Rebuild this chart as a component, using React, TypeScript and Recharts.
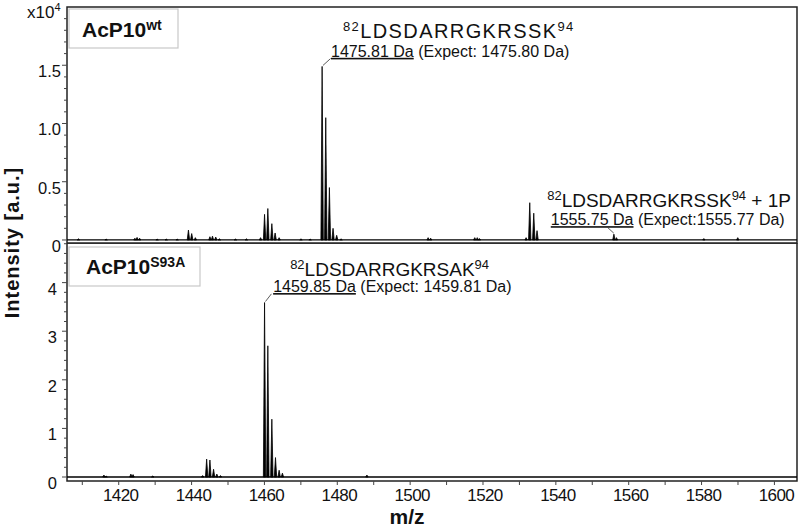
import React from 'react';
import {
  BarChart, Bar, XAxis, YAxis, ReferenceLine, ReferenceArea, ReferenceDot,
} from 'recharts';

const FONT = '"Liberation Sans", Arial, Helvetica, sans-serif';

// m/z axis
const mzDomain: [number, number] = [1405.8, 1606.2];
const mzTicks = [1410, 1420, 1430, 1440, 1450, 1460, 1470, 1480, 1490, 1500, 1510, 1520, 1530, 1540, 1550, 1560, 1570, 1580, 1590, 1600];
const mzLabelled = [1420, 1440, 1460, 1480, 1500, 1520, 1540, 1560, 1580, 1600];

// AcP10 wt spectrum (intensity x10^4)
const wtMz = [1408.9, 1416.5, 1424.4, 1425.0, 1425.7, 1430.5, 1433.0, 1436.0, 1439.1, 1440.0, 1441.0, 1445.0, 1445.7, 1446.6, 1447.6, 1452.0, 1455.0, 1458.9, 1460.0, 1460.9, 1462.0, 1462.9, 1464.0, 1470.0, 1472.5, 1475.8, 1476.8, 1477.8, 1478.8, 1479.8, 1481.0, 1504.9, 1505.6, 1517.7, 1518.4, 1519.0, 1531.8, 1532.8, 1533.9, 1534.8, 1555.9, 1556.6, 1580.6, 1589.9];
const wtIntensity = [0.01, 0.008, 0.015, 0.022, 0.015, 0.008, 0.008, 0.008, 0.085, 0.055, 0.02, 0.028, 0.033, 0.025, 0.01, 0.008, 0.01, 0.02, 0.22, 0.27, 0.14, 0.06, 0.02, 0.01, 0.008, 1.49, 1.05, 0.45, 0.10, 0.04, 0.01, 0.02, 0.015, 0.02, 0.02, 0.012, 0.02, 0.32, 0.23, 0.08, 0.05, 0.02, 0.012, 0.02];
const wtDomain: [number, number] = [-0.026, 2.0];
const wtTicks = [0, 0.1, 0.2, 0.3, 0.4, 0.5, 0.6, 0.7, 0.8, 0.9, 1.0, 1.1, 1.2, 1.3, 1.4, 1.5, 1.6, 1.7, 1.8, 1.9];
const wtMajor = [0, 0.5, 1.0, 1.5];

// AcP10 S93A spectrum
const saMz = [1415.9, 1416.5, 1423.3, 1423.9, 1429.3, 1443.0, 1444.1, 1445.0, 1446.0, 1446.9, 1447.9, 1460.0, 1460.9, 1462.0, 1463.0, 1464.0, 1464.9, 1488.1];
const saIntensity = [0.04, 0.02, 0.06, 0.05, 0.02, 0.03, 0.37, 0.35, 0.16, 0.06, 0.03, 3.59, 2.70, 1.19, 0.40, 0.14, 0.08, 0.04];
const saDomain: [number, number] = [-0.082, 4.815];
const saTicks = [0, 0.2, 0.4, 0.6, 0.8, 1, 1.2, 1.4, 1.6, 1.8, 2, 2.2, 2.4, 2.6, 2.8, 3, 3.2, 3.4, 3.6, 3.8, 4, 4.2, 4.4, 4.6, 4.8];
const saMajor = [0, 1, 2, 3, 4];

const wtPeaks = wtMz.map((mz, i) => ({ mz, intensity: wtIntensity[i] }));
const saPeaks = saMz.map((mz, i) => ({ mz, intensity: saIntensity[i] }));

const Spike = (props: any) => {
  const { x, y, width, height } = props;
  if (x == null || y == null || !height) return null;
  const c = x + width / 2;
  const base = y + height;
  return (
    <path d={`M${c - 1.2},${base} L${c},${y} L${c + 1.2},${base} Z`}
      fill="#000" stroke="#000" strokeWidth={0.8} strokeLinejoin="round" />
  );
};

const makeYTick = (major: number[], labelX: number, fmt: (v: number) => string) => (props: any) => {
  const { x, y, payload } = props;
  const v = payload.value;
  const isMajor = major.some((m) => Math.abs(m - v) < 1e-6);
  return (
    <g>
      <line x1={x - (isMajor ? 5 : 3)} x2={x} y1={y} y2={y} stroke="#444" strokeWidth={1} />
      {isMajor && (
        <text x={labelX} y={y + 12} textAnchor="end" fontFamily={FONT} fontSize={16.5} fill="#111">
          {fmt(v)}
        </text>
      )}
    </g>
  );
};

const wtTick = makeYTick(wtMajor, 61, (v) => (v === 0 ? '0' : v.toFixed(1)));
const saTick = makeYTick(saMajor, 57, (v) => String(v));

const XTick = (props: any) => {
  const { x, y, payload } = props;
  const lab = mzLabelled.includes(payload.value);
  return (
    <g>
      <line x1={x} x2={x} y1={y} y2={y + 4} stroke="#444" strokeWidth={1} />
      {lab && (
        <text x={x + 2} y={y + 20} textAnchor="middle" fontFamily={FONT} fontSize={17} letterSpacing={-0.6} fill="#111">
          {payload.value}
        </text>
      )}
    </g>
  );
};

type Anno = {
  seq: string; suffix: string; mass: string; rest: string; size1: number; sup: number; spacing: number;
  l1: [number, number]; l2: [number, number]; lead: [number, number, number, number];
};

const annoContent = (a: Anno) => (props: any) => {
  const vb = props.viewBox || {};
  const cx = vb.x + (vb.width || 0) / 2;
  const cy = vb.y + (vb.height || 0) / 2;
  const lift = Math.round(a.size1 * 0.37);
  return (
    <g fontFamily={FONT} fill="#111" style={{ whiteSpace: 'pre' }}>
      <line x1={cx + a.lead[0]} y1={cy + a.lead[1]} x2={cx + a.lead[2]} y2={cy + a.lead[3]} stroke="#333" strokeWidth={0.8} />
      <text x={cx + a.l1[0]} y={cy + a.l1[1]} fontSize={a.size1} letterSpacing={a.spacing}>
        <tspan fontSize={a.sup} dy={-lift}>82</tspan>
        <tspan dy={lift}>{a.seq}</tspan>
        <tspan fontSize={a.sup} dy={-lift}>94</tspan>
        {a.suffix ? <tspan dy={lift}>{a.suffix}</tspan> : null}
      </text>
      <text x={cx + a.l2[0]} y={cy + a.l2[1]} fontSize={16}>
        <tspan textDecoration="underline">{a.mass}</tspan>
        <tspan>{a.rest}</tspan>
      </text>
    </g>
  );
};

const annoWt: Anno = {
  seq: 'LDSDARRGKRSSK', suffix: '', mass: '1475.81 Da', rest: ' (Expect: 1475.80 Da)', size1: 20, sup: 13, spacing: 1.4,
  l1: [21, -28], l2: [9, -9.6], lead: [1, -1, 8.5, -7.8],
};
const annoWtP: Anno = {
  seq: 'LDSDARRGKRSSK', suffix: ' + 1P', mass: '1555.75 Da', rest: ' (Expect:1555.77 Da)', size1: 19, sup: 13, spacing: 0,
  l1: [-66.6, -27], l2: [-63, -9], lead: [0, -1, -6, -6.5],
};
const annoSa: Anno = {
  seq: 'LDSDARRGKRSAK', suffix: '', mass: '1459.85 Da', rest: ' (Expect: 1459.81 Da)', size1: 19, sup: 13, spacing: 0,
  l1: [25.7, -26.7], l2: [8.7, -10.5], lead: [1, -1, 7, -8.7],
};

export default function App() {
  return (
    <div style={{ position: 'absolute', left: 0, top: 0, width: 800, height: 532, background: '#fff' }}>
      <div style={{ position: 'absolute', left: 0, top: 0 }}>
        <BarChart width={800} height={262} data={wtPeaks} margin={{ top: 7, right: 3, bottom: 19, left: 0 }}>
          <XAxis type="number" dataKey="mz" domain={mzDomain} allowDataOverflow hide />
          <YAxis type="number" domain={wtDomain} allowDataOverflow width={67} ticks={wtTicks} interval={0}
            tick={wtTick} tickSize={0} tickMargin={0} axisLine={false} tickLine={false} />
          <ReferenceArea x1={mzDomain[0]} x2={mzDomain[1]} y1={wtDomain[0]} y2={wtDomain[1]}
            fill="none" fillOpacity={0} stroke="#222" strokeWidth={1.5} ifOverflow="visible" />
          <ReferenceLine y={0} stroke="#000" strokeWidth={1.3} />
          <Bar dataKey="intensity" shape={Spike} isAnimationActive={false} />
          <ReferenceDot x={1475.8} y={1.49} r={0} fill="none" stroke="none" label={{ content: annoContent(annoWt) }} />
          <ReferenceDot x={1555.9} y={0.05} r={0} fill="none" stroke="none" label={{ content: annoContent(annoWtP) }} />
        </BarChart>
      </div>
      <div style={{ position: 'absolute', left: 0, top: 243 }}>
        <BarChart width={800} height={289} data={saPeaks} margin={{ top: 0, right: 3, bottom: 0, left: 0 }}>
          <XAxis type="number" dataKey="mz" domain={mzDomain} allowDataOverflow ticks={mzTicks} interval={0}
            tick={XTick} tickSize={0} tickMargin={0} axisLine={false} tickLine={false} height={51} />
          <YAxis type="number" domain={saDomain} allowDataOverflow width={67} ticks={saTicks} interval={0}
            tick={saTick} tickSize={0} tickMargin={0} axisLine={false} tickLine={false} />
          <ReferenceArea x1={mzDomain[0]} x2={mzDomain[1]} y1={saDomain[0]} y2={saDomain[1]}
            fill="none" fillOpacity={0} stroke="#222" strokeWidth={1.5} ifOverflow="visible" />
          <ReferenceLine y={0} stroke="#000" strokeWidth={1.3} />
          <Bar dataKey="intensity" shape={Spike} isAnimationActive={false} />
          <ReferenceDot x={1460.0} y={3.59} r={0} fill="none" stroke="none" label={{ content: annoContent(annoSa) }} />
        </BarChart>
      </div>
      <svg width={800} height={532} style={{ position: 'absolute', left: 0, top: 0, pointerEvents: 'none' }}
        fontFamily={FONT}>
        <text x={27} y={18} fontSize={17} fill="#111">
          x10<tspan fontSize={11} dy={-7}>4</tspan>
        </text>
        <text transform="translate(19,242.5) rotate(-90)" textAnchor="middle" fontSize={20} fontWeight="bold"
          letterSpacing={1} fill="#111">Intensity [a.u.]</text>
        <text x={407} y={524} textAnchor="middle" fontSize={21} fontWeight="bold" fill="#111">m/z</text>
        <rect x={69} y={9} width={109} height={39} fill="#fff" stroke="#c8c8c8" strokeWidth={1.2} />
        <text x={82} y={37} fontSize={21} fontWeight="bold" fill="#111">
          AcP10<tspan fontSize={14} dy={-7}>wt</tspan>
        </text>
        <rect x={69} y={247} width={131} height={39} fill="#fff" stroke="#c8c8c8" strokeWidth={1.2} />
        <text x={86} y={274} fontSize={21} fontWeight="bold" fill="#111">
          AcP10<tspan fontSize={14} dy={-7}>S93A</tspan>
        </text>
      </svg>
    </div>
  );
}
